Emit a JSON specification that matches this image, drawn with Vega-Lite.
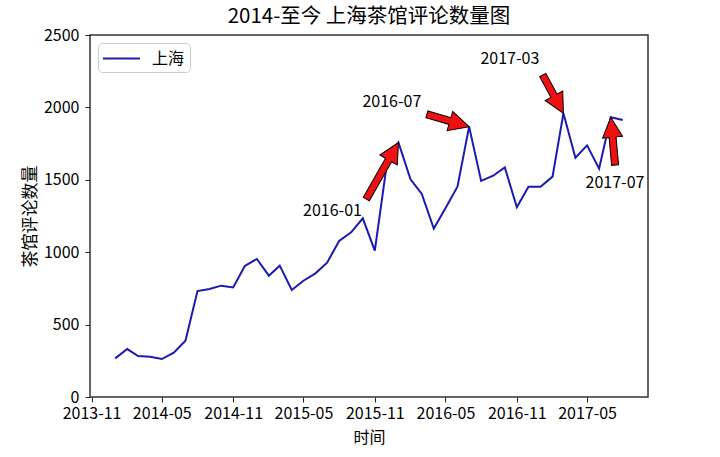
{
  "$schema": "https://vega.github.io/schema/vega-lite/v6.json",
  "width": 558,
  "height": 362,
  "autosize": "none",
  "padding": {"left": 90, "top": 35, "right": 72, "bottom": 60},
  "background": "white",
  "title": {"text": "2014-至今 上海茶馆评论数量图", "fontSize": 20.5, "fontWeight": "normal", "font": "Noto Sans CJK SC", "color": "black", "frame": "group", "anchor": "middle", "offset": 0},
  "datasets": {
    "series": [
      {"date": "2014-01-01", "value": 267, "city": "上海"},
      {"date": "2014-02-01", "value": 331, "city": "上海"},
      {"date": "2014-03-01", "value": 283, "city": "上海"},
      {"date": "2014-04-01", "value": 278, "city": "上海"},
      {"date": "2014-05-01", "value": 262, "city": "上海"},
      {"date": "2014-06-01", "value": 306, "city": "上海"},
      {"date": "2014-07-01", "value": 389, "city": "上海"},
      {"date": "2014-08-01", "value": 732, "city": "上海"},
      {"date": "2014-09-01", "value": 746, "city": "上海"},
      {"date": "2014-10-01", "value": 769, "city": "上海"},
      {"date": "2014-11-01", "value": 757, "city": "上海"},
      {"date": "2014-12-01", "value": 905, "city": "上海"},
      {"date": "2015-01-01", "value": 953, "city": "上海"},
      {"date": "2015-02-01", "value": 838, "city": "上海"},
      {"date": "2015-03-01", "value": 907, "city": "上海"},
      {"date": "2015-04-01", "value": 739, "city": "上海"},
      {"date": "2015-05-01", "value": 803, "city": "上海"},
      {"date": "2015-06-01", "value": 854, "city": "上海"},
      {"date": "2015-07-01", "value": 928, "city": "上海"},
      {"date": "2015-08-01", "value": 1077, "city": "上海"},
      {"date": "2015-09-01", "value": 1137, "city": "上海"},
      {"date": "2015-10-01", "value": 1234, "city": "上海"},
      {"date": "2015-11-01", "value": 1011, "city": "上海"},
      {"date": "2015-12-01", "value": 1590, "city": "上海"},
      {"date": "2016-01-01", "value": 1757, "city": "上海"},
      {"date": "2016-02-01", "value": 1503, "city": "上海"},
      {"date": "2016-03-01", "value": 1402, "city": "上海"},
      {"date": "2016-04-01", "value": 1163, "city": "上海"},
      {"date": "2016-05-01", "value": 1303, "city": "上海"},
      {"date": "2016-06-01", "value": 1452, "city": "上海"},
      {"date": "2016-07-01", "value": 1867, "city": "上海"},
      {"date": "2016-08-01", "value": 1492, "city": "上海"},
      {"date": "2016-09-01", "value": 1528, "city": "上海"},
      {"date": "2016-10-01", "value": 1586, "city": "上海"},
      {"date": "2016-11-01", "value": 1310, "city": "上海"},
      {"date": "2016-12-01", "value": 1452, "city": "上海"},
      {"date": "2017-01-01", "value": 1452, "city": "上海"},
      {"date": "2017-02-01", "value": 1522, "city": "上海"},
      {"date": "2017-03-01", "value": 1959, "city": "上海"},
      {"date": "2017-04-01", "value": 1653, "city": "上海"},
      {"date": "2017-05-01", "value": 1738, "city": "上海"},
      {"date": "2017-06-01", "value": 1577, "city": "上海"},
      {"date": "2017-07-01", "value": 1932, "city": "上海"},
      {"date": "2017-08-01", "value": 1913, "city": "上海"}
    ],
    "notes": [
      {"label": "2016-01", "date": "2016-01-01", "value": 1757, "tdate": "2015-07-15", "tvalue": 1285},
      {"label": "2016-07", "date": "2016-07-01", "value": 1867, "tdate": "2015-12-15", "tvalue": 2037},
      {"label": "2017-03", "date": "2017-03-01", "value": 1959, "tdate": "2016-10-14", "tvalue": 2334},
      {"label": "2017-07", "date": "2017-07-01", "value": 1932, "tdate": "2017-07-12", "tvalue": 1478}
    ]
  },
  "layer": [
    {
      "data": {"name": "series"},
      "mark": {"type": "line", "strokeWidth": 2, "clip": true},
      "encoding": {
        "x": {
          "field": "date", "type": "temporal", "title": "时间",
          "scale": {"type": "utc", "domain": [{"year": 2013, "month": 10, "date": 28, "utc": true}, {"year": 2017, "month": 10, "date": 5, "utc": true}]},
          "axis": {
            "values": [
              {"year": 2013, "month": 11, "date": 1, "utc": true},
              {"year": 2014, "month": 5, "date": 1, "utc": true},
              {"year": 2014, "month": 11, "date": 1, "utc": true},
              {"year": 2015, "month": 5, "date": 1, "utc": true},
              {"year": 2015, "month": 11, "date": 1, "utc": true},
              {"year": 2016, "month": 5, "date": 1, "utc": true},
              {"year": 2016, "month": 11, "date": 1, "utc": true},
              {"year": 2017, "month": 5, "date": 1, "utc": true}
            ],
            "format": "%Y-%m", "labelPadding": 3, "titlePadding": 8, "labelFlush": false, "labelOverlap": false
          }
        },
        "y": {
          "field": "value", "type": "quantitative", "title": "茶馆评论数量",
          "scale": {"domain": [0, 2500], "nice": false},
          "axis": {"values": [0, 500, 1000, 1500, 2000, 2500], "format": "d", "labelPadding": 6, "titlePadding": 4, "titleFontSize": 17}
        },
        "color": {
          "field": "city", "type": "nominal",
          "scale": {"range": ["#1a1ab4"]},
          "legend": {
            "orient": "top-left", "offset": 8, "title": null,
            "symbolType": "M-2,0H2", "symbolSize": 342, "symbolStrokeWidth": 2, "symbolOffset": 8,
            "labelFontSize": 16, "labelFont": "Noto Sans CJK SC", "labelColor": "black", "labelOffset": 20,
            "padding": 5, "strokeColor": "#cccccc", "fillColor": "white", "cornerRadius": 4
          }
        }
      }
    },
    {
      "data": {"name": "notes"},
      "transform": [{"filter": "datum.label === '2016-01'"}],
      "mark": {"type": "point", "shape": "M0,0L10,20L3.5,20L3.5,65L-3.5,65L-3.5,20L-10,20Z", "size": 4, "angle": 29.7, "filled": true, "fill": "#ee1111", "stroke": "black", "strokeWidth": 1, "opacity": 1},
      "encoding": {"x": {"field": "date", "type": "temporal", "title": "时间"}, "y": {"field": "value", "type": "quantitative", "title": "茶馆评论数量"}}
    },
    {
      "data": {"name": "notes"},
      "transform": [{"filter": "datum.label === '2016-07'"}],
      "mark": {"type": "point", "shape": "M0,0L10,20L3.5,20L3.5,44L-3.5,44L-3.5,20L-10,20Z", "size": 4, "angle": 106.3, "filled": true, "fill": "#ee1111", "stroke": "black", "strokeWidth": 1, "opacity": 1},
      "encoding": {"x": {"field": "date", "type": "temporal", "title": "时间"}, "y": {"field": "value", "type": "quantitative", "title": "茶馆评论数量"}}
    },
    {
      "data": {"name": "notes"},
      "transform": [{"filter": "datum.label === '2017-03'"}],
      "mark": {"type": "point", "shape": "M0,0L10,20L3.5,20L3.5,43.5L-3.5,43.5L-3.5,20L-10,20Z", "size": 4, "angle": 151.7, "filled": true, "fill": "#ee1111", "stroke": "black", "strokeWidth": 1, "opacity": 1},
      "encoding": {"x": {"field": "date", "type": "temporal", "title": "时间"}, "y": {"field": "value", "type": "quantitative", "title": "茶馆评论数量"}}
    },
    {
      "data": {"name": "notes"},
      "transform": [{"filter": "datum.label === '2017-07'"}],
      "mark": {"type": "point", "shape": "M0,0L10,20L3.5,20L3.5,48L-3.5,48L-3.5,20L-10,20Z", "size": 4, "angle": -5.2, "filled": true, "fill": "#ee1111", "stroke": "black", "strokeWidth": 1, "opacity": 1},
      "encoding": {"x": {"field": "date", "type": "temporal", "title": "时间"}, "y": {"field": "value", "type": "quantitative", "title": "茶馆评论数量"}}
    },
    {
      "data": {"name": "notes"},
      "mark": {"type": "text", "fontSize": 16, "font": "Noto Sans CJK SC", "color": "black", "align": "center", "baseline": "middle"},
      "encoding": {
        "x": {"field": "tdate", "type": "temporal", "title": "时间"},
        "y": {"field": "tvalue", "type": "quantitative", "title": "茶馆评论数量"},
        "text": {"field": "label", "type": "nominal"}
      }
    }
  ],
  "config": {
    "font": "Noto Sans CJK SC",
    "view": {"stroke": "#333333", "strokeWidth": 1.5},
    "axis": {
      "labelFont": "Noto Sans CJK SC", "labelFontSize": 16, "labelColor": "black",
      "titleFont": "Noto Sans CJK SC", "titleFontSize": 16, "titleFontWeight": "normal", "titleColor": "black",
      "tickColor": "#222222", "tickSize": 5, "tickWidth": 1, "domain": false, "grid": false
    }
  }
}
